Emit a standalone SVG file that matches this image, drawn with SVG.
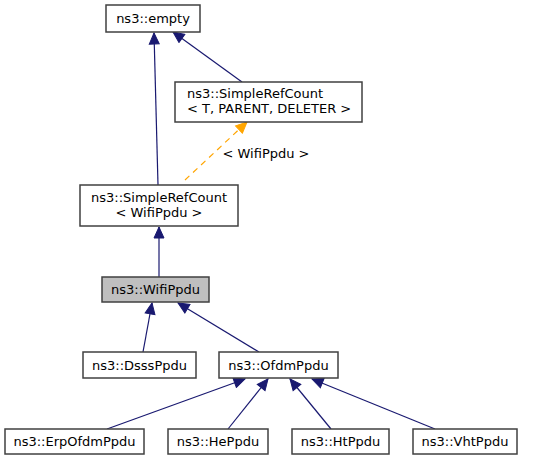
<svg xmlns="http://www.w3.org/2000/svg" width="535" height="460" viewBox="0 0 535 460">
<style>
.box{fill:#ffffff;stroke:#404040;stroke-width:1.5}
.cur{fill:#bfbfbf;stroke:#404040;stroke-width:1.5}
text{font-family:"DejaVu Sans","Liberation Sans",sans-serif;font-size:13px;fill:#000000;text-anchor:middle}
.l{text-anchor:start}
.e{stroke:#191970;stroke-width:1.2;fill:none;marker-end:url(#a)}
.t{stroke:#ffa500;stroke-width:1.2;fill:none;stroke-dasharray:6,5;marker-end:url(#o)}
</style>
<defs>
<marker id="a" markerUnits="userSpaceOnUse" markerWidth="14" markerHeight="12" refX="11" refY="5" orient="auto" viewBox="-1 -1 14 12">
<path d="M0,0 L11,5 L0,10 Z" fill="#191970" stroke="#191970"/>
</marker>
<marker id="o" markerUnits="userSpaceOnUse" markerWidth="14" markerHeight="12" refX="11" refY="5" orient="auto" viewBox="-1 -1 14 12">
<path d="M0,0 L11,5 L0,10 Z" fill="#ffa500" stroke="#ffa500"/>
</marker>
</defs>
<g id="edges">
<path class="e" d="M158,185 L154,33"/>
<path class="e" d="M242,82 L173,32"/>
<path class="t" d="M185,180 L247,122"/>
<path class="e" d="M159,277 L159,227"/>
<path class="e" d="M143,352 L152,303"/>
<path class="e" d="M259,352 L178,303"/>
<path class="e" d="M107,429 L245,379"/>
<path class="e" d="M228,429 L268,379"/>
<path class="e" d="M331,429 L290,379"/>
<path class="e" d="M435,429 L312,379"/>
<text x="266" y="158">&lt; WifiPpdu &gt;</text>
</g>
<g id="empty"><rect class="box" x="106" y="5" width="94" height="27"/><text x="153" y="23">ns3::empty</text></g>
<g id="srcT"><rect class="box" x="175" y="82" width="187" height="40"/><text class="l" x="187" y="98">ns3::SimpleRefCount</text><text class="l" x="187" y="113">&lt; T, PARENT, DELETER &gt;</text></g>
<g id="srcW"><rect class="box" x="80" y="185" width="158" height="41"/><text x="159" y="201.5">ns3::SimpleRefCount</text><text x="159" y="216.5">&lt; WifiPpdu &gt;</text></g>
<g id="wifi"><rect class="cur" x="102" y="277" width="107" height="25"/><text x="155.5" y="294">ns3::WifiPpdu</text></g>
<g id="dsss"><rect class="box" x="83" y="352" width="113" height="26"/><text x="139.5" y="369.5">ns3::DsssPpdu</text></g>
<g id="ofdm"><rect class="box" x="219" y="352" width="119" height="26"/><text x="278.5" y="369.5">ns3::OfdmPpdu</text></g>
<g id="erp"><rect class="box" x="5" y="429" width="139" height="25"/><text x="74.5" y="446">ns3::ErpOfdmPpdu</text></g>
<g id="he"><rect class="box" x="168" y="429" width="100" height="25"/><text x="218" y="446">ns3::HePpdu</text></g>
<g id="ht"><rect class="box" x="292" y="429" width="97" height="25"/><text x="340.5" y="446">ns3::HtPpdu</text></g>
<g id="vht"><rect class="box" x="413" y="429" width="104" height="25"/><text x="465" y="446">ns3::VhtPpdu</text></g>
</svg>
